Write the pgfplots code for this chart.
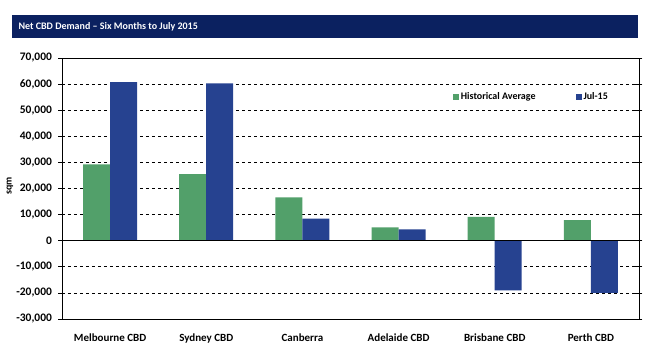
\documentclass[border=0pt]{standalone}
\usepackage{fontspec}
\setmainfont{Carlito}
\usepackage{pgfplots}
\pgfplotsset{compat=1.18}
\definecolor{navy}{RGB}{11,33,96}
\definecolor{histgreen}{RGB}{82,160,106}
\definecolor{julblue}{RGB}{38,66,144}
\begin{document}
\begin{tikzpicture}[x=1pt,y=1pt]
\path[use as bounding box] (0,0) rectangle (654,359);
\fill[navy] (12,321) rectangle (638,344);
\node[anchor=west,text=white,font=\bfseries\fontsize{10}{12}\selectfont] at (15,332.5) {Net CBD Demand -- Six Months to July 2015};
\begin{axis}[
  at={(62pt,40pt)}, anchor=south west,
  scale only axis, width=577pt, height=261pt,
  ymin=-30000, ymax=70000, ytick distance=10000,
  xmin=-0.5, xmax=5.5,
  xtick=data,
  xticklabels={Melbourne CBD,Sydney CBD,Canberra,Adelaide CBD,Brisbane CBD,Perth CBD},
  x tick style={draw=none},
  y tick style={black, line width=0.6pt},
  ytick align=center,
  major tick length=7pt,
  ymajorgrids, major grid style={black, dashed, line width=0.6pt},
  axis line style={black, line width=0.8pt},
  yticklabel style={font=\bfseries\fontsize{11.5}{13}\selectfont, xshift=-3pt, /pgf/number format/.cd, 1000 sep={,}, assume math mode=true},
  xticklabel style={font=\bfseries\fontsize{11}{13}\selectfont, yshift=-4pt},
  scaled y ticks=false,
  ylabel={\bfseries sqm}, ylabel style={font=\fontsize{10}{12}\selectfont, at={(-52pt,0.51)}, anchor=center},
  ybar=0pt, bar width=27pt,
  legend style={at={(0.672,0.85)}, anchor=west, draw=none, fill=none,
    legend columns=2, font=\bfseries\fontsize{10}{12}\selectfont,
    /tikz/every even column/.append style={column sep=38pt}},
  legend image code/.code={\fill[#1] (0pt,-3pt) rectangle (6pt,3pt);},
]
\addplot[fill=histgreen, draw=none] coordinates {(0,29200) (1,25500) (2,16600) (3,5100) (4,9100) (5,7900)};
\addplot[fill=julblue, draw=none] coordinates {(0,60800) (1,60300) (2,8500) (3,4300) (4,-19000) (5,-20000)};
\legend{Historical Average, Jul-15}
\draw[black, line width=0.8pt] (axis cs:-0.5,0) -- (axis cs:5.5,0);
\end{axis}
\end{tikzpicture}
\end{document}
